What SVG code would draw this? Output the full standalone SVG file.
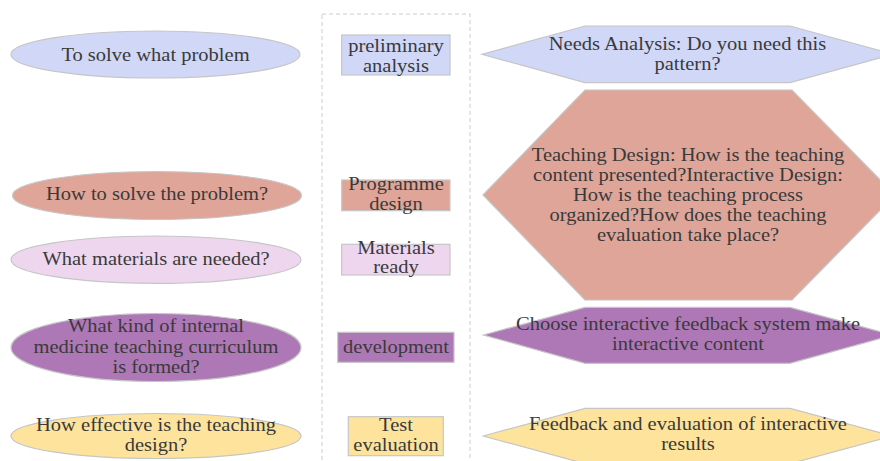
<svg xmlns="http://www.w3.org/2000/svg" width="880" height="461" viewBox="0 0 880 461">
<style>
.shape{stroke:#c6c6c6;stroke-width:1.2}
.blue{fill:#d0d7f7}
.salmon{fill:#dfa598}
.pink{fill:#efd6ef}
.purple{fill:#ae78b7}
.yellow{fill:#fde39b}
text{font-family:"Liberation Serif","Times New Roman",serif;font-size:19px;fill:#3a3a3a;text-anchor:middle}
.frame{fill:none;stroke:#cccccc;stroke-width:1;stroke-dasharray:4 3}
</style>
<rect class="frame" x="322" y="14" width="148" height="460"/>
<g id="connectors"/>
<g id="q1">
<ellipse class="shape blue" cx="155.5" cy="54.5" rx="144.5" ry="23.5"/>
<g transform="translate(155.5 0) scale(1.08 1)"><text x="0" y="61">To solve what problem</text></g>
</g>
<g id="q2">
<ellipse class="shape salmon" cx="157" cy="195.5" rx="144.5" ry="24"/>
<g transform="translate(157 0) scale(1.08 1)"><text x="0" y="200">How to solve the problem?</text></g>
</g>
<g id="q3">
<ellipse class="shape pink" cx="156" cy="259.7" rx="145" ry="23.7"/>
<g transform="translate(156 0) scale(1.08 1)"><text x="0" y="265">What materials are needed?</text></g>
</g>
<g id="q4">
<ellipse class="shape purple" cx="156" cy="347.5" rx="145" ry="34"/>
<g transform="translate(156 0) scale(1.08 1)"><text x="0" y="332.5">What kind of internal</text><text x="0" y="353">medicine teaching curriculum</text><text x="0" y="373">is formed?</text></g>
</g>
<g id="q5">
<ellipse class="shape yellow" cx="156" cy="436" rx="145" ry="22.5"/>
<g transform="translate(156 0) scale(1.08 1)"><text x="0" y="431">How effective is the teaching</text><text x="0" y="451">design?</text></g>
</g>
<g id="s1">
<rect class="shape blue" x="341.7" y="35" width="108.3" height="40"/>
<g transform="translate(396 0) scale(1.08 1)"><text x="0" y="52.5">preliminary</text><text x="0" y="72">analysis</text></g>
</g>
<g id="s2">
<rect class="shape salmon" x="341.7" y="180" width="108.3" height="30.7"/>
<g transform="translate(396 0) scale(1.08 1)"><text x="0" y="190.5">Programme</text><text x="0" y="210">design</text></g>
</g>
<g id="s3">
<rect class="shape pink" x="341.7" y="244.3" width="108.3" height="30.7"/>
<g transform="translate(396 0) scale(1.08 1)"><text x="0" y="254.5">Materials</text><text x="0" y="273.5">ready</text></g>
</g>
<g id="s4">
<rect class="shape purple" x="337.7" y="332.3" width="116.3" height="30"/>
<g transform="translate(396 0) scale(1.08 1)"><text x="0" y="353.3">development</text></g>
</g>
<g id="s5">
<rect class="shape yellow" x="348.3" y="416.7" width="95" height="39"/>
<g transform="translate(396 0) scale(1.08 1)"><text x="0" y="431.5">Test</text><text x="0" y="451.5">evaluation</text></g>
</g>
<g id="h1">
<polygon class="shape blue" points="482,54.3 585,26 790,26 893,54.3 790,82.7 585,82.7"/>
<g transform="translate(687.5 0) scale(1.08 1)"><text x="0" y="50">Needs Analysis: Do you need this</text><text x="0" y="70">pattern?</text></g>
</g>
<g id="h2">
<polygon class="shape salmon" points="483,195 585,90 792,90 895,195 792,300 585,300"/>
<g transform="translate(688 0) scale(1.08 1)"><text x="0" y="161">Teaching Design: How is the teaching</text><text x="0" y="181">content presented?Interactive Design:</text><text x="0" y="201">How is the teaching process</text><text x="0" y="221.5">organized?How does the teaching</text><text x="0" y="241.5">evaluation take place?</text></g>
</g>
<g id="h3">
<polygon class="shape purple" points="483.3,335 585,307.3 790,307.3 893,335 790,363.3 585,363.3"/>
<g transform="translate(688 0) scale(1.08 1)"><text x="0" y="330">Choose interactive feedback system make</text><text x="0" y="350.5">interactive content</text></g>
</g>
<g id="h4">
<polygon class="shape yellow" points="483.3,436 585,408.3 790,408.3 893,436 790,463.7 585,463.7"/>
<g transform="translate(688 0) scale(1.08 1)"><text x="0" y="430.5">Feedback and evaluation of interactive</text><text x="0" y="450.5">results</text></g>
</g>
</svg>
